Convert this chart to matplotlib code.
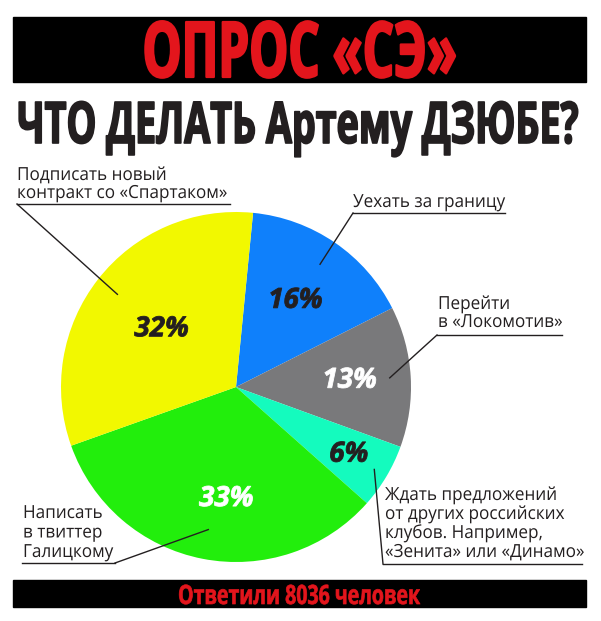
import matplotlib
matplotlib.use('Agg')
import numpy as np
import matplotlib.pyplot as plt
from matplotlib.patches import Rectangle
from matplotlib.patheffects import AbstractPathEffect
from matplotlib.transforms import Affine2D

# данные опроса
answers = ['Уехать за границу',
           'Перейти\nв «Локомотив»',
           'Ждать предложений\nот других российских\nклубов. Например,\n«Зенита» или «Динамо»',
           'Написать\nв твиттер\nГалицкому',
           'Подписать новый\nконтракт со «Спартаком»']
shares = [16, 13, 6, 33, 32]
colors = ['#0f80fb', '#79797b', '#14fbbe', '#22ee0c', '#f2f800']
pct_colors = ['#231f20', 'white', '#231f20', 'white', '#231f20']
header = 'ОПРОС «СЭ»'
title = 'ЧТО ДЕЛАТЬ Артему ДЗЮБЕ?'
respondents = 8036

W, H = 601, 621
DARK = '#231f20'
RED = '#e3151c'
FONT = ['Open Sans', 'DejaVu Sans']


class Stretch(AbstractPathEffect):
    """масштабирует глифы вокруг точки привязки текста, при желании утолщает"""
    def __init__(self, text, sx=1.0, sy=1.0, lw=0.0):
        super().__init__()
        self.text = text
        self.sx, self.sy, self.lw = sx, sy, lw

    def draw_path(self, renderer, gc, tpath, affine, rgbFace=None):
        px, py = self.text.get_transform().transform(self.text.get_position())
        sq = Affine2D().translate(-px, -py).scale(self.sx, self.sy).translate(px, py)
        gc0 = renderer.new_gc()
        gc0.copy_properties(gc)
        if self.lw and rgbFace is not None:
            gc0.set_linewidth(self.lw)
            gc0.set_foreground(rgbFace)
            gc0.set_joinstyle('round')
        renderer.draw_path(gc0, tpath, affine + sq, rgbFace)
        gc0.restore()


fig = plt.figure(figsize=(W / 100, H / 100), dpi=100)
ax = fig.add_axes([0, 0, 1, 1])

wedges, _ = ax.pie(shares, colors=colors, startangle=84.4, counterclock=False,
                   center=(236, H - 387), radius=175,
                   wedgeprops=dict(linewidth=0))
ax.set_xlim(0, W)
ax.set_ylim(0, H)
ax.set_aspect('auto')
ax.axis('off')

# плашки сверху и снизу
ax.add_patch(Rectangle((13, H - 82), 573, 65, color='black', zorder=0))
ax.add_patch(Rectangle((13, H - 607), 573, 27, color='black', zorder=0))

# (текст, цвет, x центра, базовая линия, ширина, высота заглавных, утолщение)
big_specs = [
    (header, RED, 299.5, 77, 315, 55, 1.6),
    (title, DARK, 297.5, 143, 561, 41, 1.2),
    (f'Ответили {respondents} человек', RED, 299, 604, 242, 19, 0.5),
]
big = []
for s, c, x, base, width, cap, lw in big_specs:
    t = ax.text(x, H - base, s, color=c, fontsize=20, fontweight='bold',
                family=FONT, ha='center', va='baseline')
    big.append((t, width, cap, lw))

# проценты и подписи
pct_r = [0.6, 0.65, 0.75, 0.64, 0.54]
pct_shift = [0, 0, 0, 6, 0]
lead_r = [0.85, 0.88, 0.92, 0.83, 0.86]
# x текста, первая базовая линия, шаг строк, подчёркивание (x0, x1, y), точка выноски
label_pos = [
    (353, 207, 18, (353, 505, 213), 353),
    (438, 309, 18, (437, 562, 335), 437),
    (385, 500, 19, (383, 582, 564), 383),
    (23, 518, 19.5, (22, 115, 563), 115),
    (17, 180, 18, (17, 230, 204), 17),
]

cx, cy = 236, H - 387
small = []
pcts = []
for w, s, pc, lab, lr, pr, sh, pos in zip(wedges, shares, pct_colors, answers,
                                            lead_r, pct_r, pct_shift, label_pos):
    mid = np.deg2rad((w.theta1 + w.theta2) / 2)
    pa = mid + np.deg2rad(sh)
    tp = ax.text(cx + pr * 175 * np.cos(pa), cy + pr * 175 * np.sin(pa), f'{s}%',
                 color=pc, fontsize=20, fontweight='bold', fontstyle='italic',
                 family=FONT, ha='center', va='center')
    pcts.append(tp)
    x, base, step, (u0, u1, uy), ax_ = pos
    for i, line in enumerate(lab.split('\n')):
        tt = ax.text(x, H - (base + i * step), line, color=DARK, fontsize=13,
                     family=FONT, ha='left', va='baseline')
        small.append(tt)
    ax.plot([u0, u1], [H - uy, H - uy], color=DARK, lw=1)
    ax.plot([ax_, cx + lr * 175 * np.cos(mid)], [H - uy, cy + lr * 175 * np.sin(mid)],
            color=DARK, lw=1)

fig.canvas.draw()
for t, width, cap, lw in big:
    w0 = t.get_window_extent().width
    t.set_fontsize(t.get_fontsize() * width / w0)
    sy = cap / (0.714 * t.get_fontsize() * 100 / 72)
    t.set_path_effects([Stretch(t, 1.0, sy, lw)])
for t in small:
    t.set_path_effects([Stretch(t, 0.95, 1.0)])
for t in pcts:
    t.set_path_effects([Stretch(t, 1.0, 1.0, 0.6)])

fig.savefig('out.png', dpi=100, facecolor='white')
